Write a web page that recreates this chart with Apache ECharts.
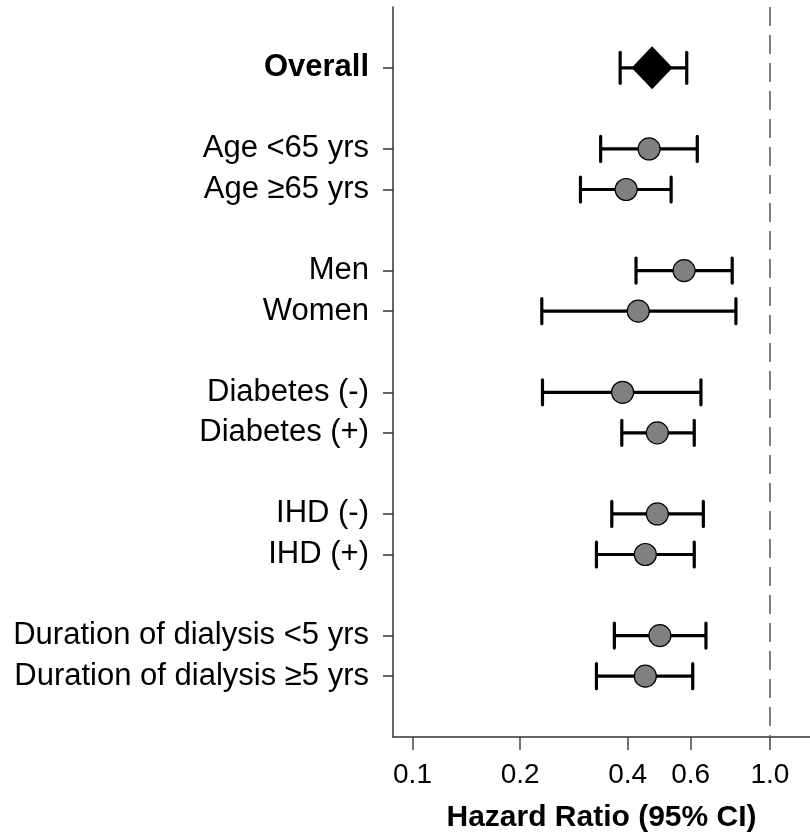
<!DOCTYPE html>
<html>
<head>
<meta charset="utf-8">
<script src="https://cdn.jsdelivr.net/npm/echarts@6/dist/echarts.min.js"></script>
<style>html,body{margin:0;padding:0;background:#fff}#c{width:810px;height:833px}</style>
</head>
<body>
<div id="c"></div>
<script>
// ---- data ----
var groups = [1, 2, 2, 2, 2, 2];
var labels = ['Overall', 'Age <65 yrs', 'Age \u226565 yrs', 'Men', 'Women',
  'Diabetes (-)', 'Diabetes (+)', 'IHD (-)', 'IHD (+)',
  'Duration of dialysis <5 yrs', 'Duration of dialysis \u22655 yrs'];
var hr    = [0.468, 0.459, 0.396, 0.575, 0.428, 0.387, 0.484, 0.484, 0.448, 0.492, 0.448];
var lower = [0.381, 0.336, 0.295, 0.422, 0.230, 0.231, 0.385, 0.361, 0.327, 0.367, 0.327];
var upper = [0.585, 0.626, 0.529, 0.784, 0.803, 0.641, 0.614, 0.651, 0.614, 0.662, 0.608];
var xTicks = [0.1, 0.2, 0.4, 0.6, 1.0];
var xMin = 0.0882, xMax = 1.294;
var refValue = 1.0;

// ---- build categories with spacer rows ----
var categories = ['_gap0'];
var rowIndex = [];
var k = 0;
groups.forEach(function (n, gi) {
  for (var i = 0; i < n; i++) { rowIndex.push(categories.length); categories.push(labels[k++]); }
  categories.push('_gap' + (gi + 1));
});
var L = Math.log10;
var ci = labels.map(function (lab, i) { return [rowIndex[i], L(lower[i]), L(upper[i]), i === 0 ? 1 : 0]; });
var pts = labels.map(function (lab, i) { return [L(hr[i]), rowIndex[i]]; }).slice(1);
var overallPt = [[L(hr[0]), rowIndex[0]]];

var chart = echarts.init(document.getElementById('c'), null, { renderer: 'canvas' });
var FONT = '"Liberation Sans", Arial, sans-serif';
chart.setOption({
  animation: false,
  backgroundColor: '#fff',
  grid: { left: 393, right: 0, top: 7, bottom: 96, containLabel: false, outerBoundsMode: 'none' },
  xAxis: {
    type: 'value',
    min: L(xMin), max: L(xMax),
    name: 'Hazard Ratio (95% CI)',
    nameLocation: 'middle',
    nameGap: 66,
    nameTextStyle: { fontFamily: FONT, fontSize: 30, fontWeight: 'bold', color: '#000' },
    axisLine: { show: true, onZero: false, lineStyle: { color: '#333', width: 1.5 } },
    axisTick: { show: true, length: 13, lineStyle: { color: '#444', width: 1.5 },
      customValues: xTicks.map(L) },
    axisLabel: { fontFamily: FONT, fontSize: 28, color: '#000', margin: 24,
      customValues: xTicks.map(L),
      formatter: function (v) { return Math.pow(10, v).toFixed(1); } },
    splitLine: { show: false }
  },
  yAxis: {
    type: 'category',
    data: categories,
    inverse: true,
    axisLine: { show: true, onZero: false, lineStyle: { color: '#333', width: 1.5 } },
    axisTick: { show: true, alignWithLabel: true, length: 10,
      lineStyle: { color: '#333', width: 1.5 },
      interval: function (idx, val) { return String(val).indexOf('_gap') !== 0; } },
    axisLabel: {
      interval: 0, margin: 24, fontFamily: FONT, fontSize: 31, color: '#000',
      formatter: function (v) {
        if (String(v).indexOf('_gap') === 0) return '';
        if (v === 'Overall') return '{b|' + v + '}';
        return v;
      },
      rich: { b: { fontFamily: FONT, fontSize: 31, fontWeight: 'bold', color: '#000' } }
    },
    splitLine: { show: false }
  },
  series: [
    {
      type: 'custom',
      data: ci,
      encode: { y: 0, x: [1, 2] },
      renderItem: function (params, api) {
        var a = api.coord([api.value(1), api.value(0)]);
        var b = api.coord([api.value(2), api.value(0)]);
        var h = api.value(3) ? 15.5 : 12.5;
        var st = { stroke: '#000', lineWidth: 3.2, lineCap: 'round' };
        return { type: 'group', children: [
          { type: 'line', shape: { x1: a[0], y1: a[1], x2: b[0], y2: b[1] }, style: { stroke: '#000', lineWidth: 3.2 } },
          { type: 'line', shape: { x1: a[0], y1: a[1] - h, x2: a[0], y2: a[1] + h }, style: st },
          { type: 'line', shape: { x1: b[0], y1: b[1] - h, x2: b[0], y2: b[1] + h }, style: st }
        ] };
      },
      z: 2
    },
    {
      type: 'scatter',
      data: pts,
      symbol: 'circle',
      symbolSize: 22,
      itemStyle: { color: '#808080', borderColor: '#000', borderWidth: 1.2, opacity: 1 },
      markLine: {
        silent: true, symbol: 'none', label: { show: false },
        lineStyle: { color: '#555', width: 1.5, type: [19, 9] },
        data: [{ xAxis: L(refValue) }]
      },
      z: 3
    },
    {
      type: 'scatter',
      data: overallPt,
      symbol: 'diamond',
      symbolSize: [41, 43],
      itemStyle: { color: '#000', opacity: 1 },
      z: 3
    }
  ]
});
</script>
</body>
</html>
